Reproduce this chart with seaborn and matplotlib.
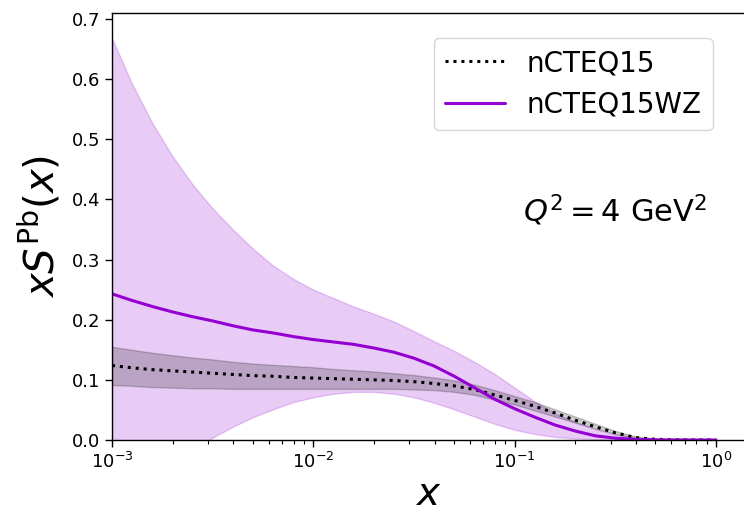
import numpy as np
import pandas as pd
import matplotlib
matplotlib.use("Agg")
import matplotlib.pyplot as plt
import seaborn as sns

# Bjorken-x grid, given as log10(x)
log10_x = [-3.0, -2.9, -2.8, -2.7, -2.6, -2.5, -2.4, -2.3, -2.2, -2.1,
           -2.0, -1.9, -1.8, -1.7, -1.6, -1.5, -1.4, -1.3, -1.2, -1.1,
           -1.0, -0.9, -0.8, -0.7, -0.6, -0.5, -0.4, -0.3, -0.2, -0.1, 0.0]

# nCTEQ15: central value and error band
ncteq15_central = [0.124, 0.120, 0.117, 0.115, 0.113, 0.111, 0.109, 0.107, 0.106, 0.104,
                   0.103, 0.102, 0.101, 0.100, 0.099, 0.097, 0.094, 0.090, 0.084, 0.075,
                   0.066, 0.056, 0.045, 0.033, 0.022, 0.012, 0.004, 0.0012, 0.0003, 0.0001, 0.0]
ncteq15_upper = [0.155, 0.150, 0.145, 0.141, 0.137, 0.134, 0.130, 0.127, 0.125, 0.123,
                 0.121, 0.118, 0.116, 0.114, 0.111, 0.108, 0.104, 0.099, 0.092, 0.083,
                 0.073, 0.063, 0.051, 0.039, 0.027, 0.015, 0.006, 0.002, 0.0005, 0.0001, 0.0]
ncteq15_lower = [0.0915, 0.090, 0.088, 0.087, 0.086, 0.086, 0.085, 0.085, 0.085, 0.085,
                 0.085, 0.085, 0.085, 0.085, 0.085, 0.084, 0.083, 0.080, 0.075, 0.067,
                 0.059, 0.049, 0.039, 0.029, 0.019, 0.010, 0.003, 0.0008, 0.0002, 0.0, 0.0]

# nCTEQ15WZ: central value and error band
wz_central = [0.243, 0.232, 0.222, 0.213, 0.205, 0.198, 0.190, 0.183, 0.178, 0.172,
              0.167, 0.163, 0.159, 0.153, 0.146, 0.136, 0.123, 0.106, 0.087, 0.068,
              0.052, 0.038, 0.025, 0.015, 0.007, 0.003, 0.001, 0.0003, 0.0001, 0.0, 0.0]
wz_upper = [0.668, 0.592, 0.527, 0.472, 0.425, 0.385, 0.350, 0.318, 0.290, 0.268,
            0.250, 0.236, 0.222, 0.210, 0.197, 0.181, 0.164, 0.148, 0.130, 0.110,
            0.087, 0.064, 0.044, 0.030, 0.018, 0.009, 0.004, 0.0015, 0.0005, 0.0001, 0.0]
wz_lower = [-0.14, -0.11, -0.075, -0.045, -0.018, 0.004, 0.022, 0.038, 0.051, 0.063,
            0.071, 0.077, 0.080, 0.080, 0.077, 0.071, 0.062, 0.051, 0.039, 0.027,
            0.017, 0.010, 0.005, 0.0025, 0.001, 0.0004, 0.0001, 0.0, 0.0, 0.0, 0.0]

labels = ["nCTEQ15", "nCTEQ15WZ"]

x_vals = list(10.0 ** np.array(log10_x))

df = pd.DataFrame({
    "x": x_vals * 2,
    "xS": ncteq15_central + wz_central,
    "set": [labels[0]] * len(x_vals) + [labels[1]] * len(x_vals),
})

sns.set_style("ticks")
plt.rcParams["font.family"] = ["DejaVu Sans"]
plt.rcParams["mathtext.fontset"] = "dejavusans"
for key in ["text.color", "axes.labelcolor", "xtick.color", "ytick.color", "axes.edgecolor"]:
    plt.rcParams[key] = "black"

fig = plt.figure(figsize=(7.44, 5.13), dpi=100)
ax = fig.add_axes([112 / 744, 1 - 440 / 513, 1 - 112 / 744, (440 - 13) / 513])

violet = "#9400D3"

ax.fill_between(x_vals, wz_lower, wz_upper, color=violet, alpha=0.2, lw=1.0)
ax.fill_between(x_vals, ncteq15_lower, ncteq15_upper, color="black", alpha=0.2, lw=1.0)

sns.lineplot(data=df, x="x", y="xS", hue="set", style="set",
             palette={labels[0]: "black", labels[1]: violet},
             dashes={labels[0]: (1, 1.6), labels[1]: ""},
             linewidth=2.2, ax=ax)

ax.set_xscale("log")
ax.set_xlim(1e-3, 10 ** ((744 - 716) / 201.3))
ax.set_ylim(0, 0.71)

for side in ["left", "bottom", "top"]:
    ax.spines[side].set_color("black")
    ax.spines[side].set_linewidth(1.0)
ax.spines["right"].set_visible(False)

ax.tick_params(axis="both", which="major", labelsize=13, length=5, width=1, color="black")
ax.tick_params(axis="x", which="minor", length=3, width=0.8, color="black")
ax.set_yticks([0.0, 0.1, 0.2, 0.3, 0.4, 0.5, 0.6, 0.7])

ax.set_xlabel("$x$", fontsize=28, labelpad=2)
ax.set_ylabel(r"$xS^{\rm Pb}(x)$", fontsize=29, labelpad=6)

handles, hl = ax.get_legend_handles_labels()
leg = ax.legend(handles, hl, loc="upper right", fontsize=20,
                bbox_to_anchor=(713 / 744, 1 - 38 / 513), bbox_transform=fig.transFigure,
                borderaxespad=0, frameon=True, handlelength=2.15, handletextpad=0.8)
leg.get_frame().set_edgecolor("#cccccc")

fig.text(523 / 744, 1 - 210 / 513, r"$Q^2 = 4$ GeV$^2$", fontsize=22, va="center", ha="left")

fig.savefig("out.png", dpi=100)
